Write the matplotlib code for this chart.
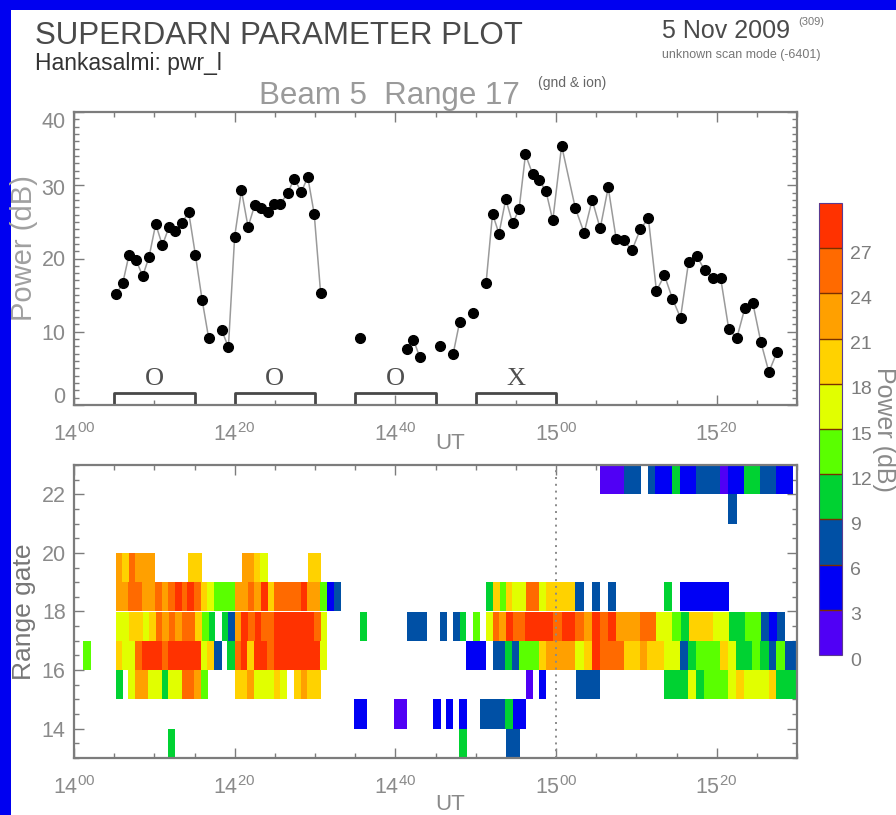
import numpy as np
import matplotlib
matplotlib.use("Agg")
import matplotlib.pyplot as plt
from matplotlib.colors import ListedColormap, BoundaryNorm
from matplotlib.cm import ScalarMappable
from matplotlib.patches import Rectangle
from matplotlib.transforms import ScaledTranslation

plt.rcParams['font.family'] = ['Liberation Sans', 'DejaVu Sans']
plt.rcParams['mathtext.fontset'] = 'custom'
plt.rcParams['mathtext.rm'] = 'Liberation Sans'
plt.rcParams['mathtext.default'] = 'regular'

W, H = 896, 815

# ---- data ----
beam_time = [5.23, 6.06, 6.85, 7.72, 8.55, 9.34, 10.17, 11.0, 11.83, 12.62, 13.45, 14.28, 15.11, 15.94, 16.77,
             18.39, 19.22, 20.0, 20.84, 21.67, 22.5, 23.29, 24.1, 24.95, 25.7, 26.6, 27.4, 28.3, 29.1, 29.9, 30.7,
             35.66, 41.4, 42.26, 43.05, 45.6, 47.2, 48.0, 49.65,
             51.3, 52.1, 52.9, 53.75, 54.6, 55.4, 56.2, 57.1, 57.9, 58.75, 59.6, 60.7, 62.4, 63.5, 64.5, 65.5, 66.5,
             67.5, 68.45, 69.45, 70.5, 71.5, 72.5, 73.5, 74.5, 75.5, 76.5, 77.5, 78.5, 79.5, 80.5, 81.5, 82.5, 83.5,
             84.5, 85.5, 86.5, 87.5]
beam_power = [15.1, 16.6, 20.5, 19.8, 17.6, 20.2, 24.7, 21.8, 24.3, 23.8, 24.9, 26.3, 20.5, 14.4, 9.1,
              10.2, 7.9, 23.0, 29.3, 24.3, 27.3, 26.9, 26.4, 27.5, 27.5, 28.9, 30.9, 29.1, 31.1, 26.1, 15.3,
              9.2, 7.7, 8.9, 6.5, 8.0, 7.0, 11.3, 12.5,
              16.7, 26.1, 23.4, 28.1, 24.8, 26.7, 34.2, 31.5, 30.7, 29.2, 25.2, 35.4, 26.9, 23.5, 28.0, 24.1, 29.7,
              22.6, 22.5, 21.1, 24.0, 25.5, 15.6, 17.7, 14.5, 11.9, 19.5, 20.4, 18.4, 17.4, 17.3, 10.4, 9.1, 13.2,
              13.9, 8.6, 4.5, 7.2]
line_break_after = [16.77, 30.7, 35.66, 43.05, 45.6, 48.0, 49.65]

mode_start = [5, 20, 35, 50]
mode_end = [15, 30, 45, 60]
mode_label = ['O', 'O', 'O', 'X']

levels = [0, 3, 6, 9, 12, 15, 18, 21, 24, 27, 30]
level_colors = ['#5000f5', '#0000f5', '#0050a5', '#00d232', '#5aff00',
                '#e1ff00', '#ffd200', '#ffa000', '#ff6a00', '#ff3200']

P, B, S, G, L, Y, A, O, D, R = 1.5, 4.5, 7.5, 10.5, 13.5, 16.5, 19.5, 22.5, 25.5, 28.5

gate_13 = [(11.75, 12.58, G), (47.95, 48.9, G), (53.76, 55.54, S)]
gate_14 = [(34.8, 36.45, B), (39.8, 41.4, P), (44.66, 45.66, B), (46.33, 47.24, B), (47.95, 48.9, B),
           (50.48, 53.67, S), (53.67, 54.63, G), (54.63, 56.29, B)]
gate_15 = [(5.19, 6.06, G), (6.76, 7.6, Y), (7.6, 9.25, O), (9.25, 10.9, Y), (10.9, 11.75, G), (11.75, 13.4, Y),
           (13.4, 14.94, D), (14.94, 15.77, O), (15.77, 16.7, L), (20.05, 21.58, A), (21.58, 22.41, O),
           (22.41, 24.9, Y), (24.9, 25.7, A), (25.7, 26.56, Y), (27.4, 28.2, A), (28.2, 29.05, O), (29.05, 30.7, A),
           (56.29, 57.12, P), (57.91, 58.78, B), (62.47, 65.5, S), (73.39, 76.42, G), (76.42, 77.42, Y),
           (77.42, 78.42, G), (78.42, 81.36, L), (81.36, 82.44, Y), (82.44, 83.44, A), (83.44, 86.47, Y),
           (86.47, 87.42, A), (87.42, 90.0, G)]
gate_16 = [(1.16, 2.07, L), (5.19, 5.93, A), (5.93, 7.6, Y), (7.6, 8.42, D), (8.42, 10.92, R), (10.92, 11.75, D),
           (11.75, 15.77, R), (15.77, 16.6, Y), (16.6, 17.43, A), (17.43, 18.39, S), (19.09, 20.05, G),
           (20.05, 20.75, D), (20.75, 21.58, R), (21.58, 22.41, A), (22.41, 24.07, R), (24.07, 24.9, D),
           (24.9, 30.63, R), (30.63, 31.46, Y), (48.82, 51.31, B), (52.14, 53.67, S), (53.67, 54.5, G),
           (54.5, 55.42, S), (55.42, 57.91, L), (57.91, 58.78, A), (58.78, 62.39, O), (62.39, 63.51, Y),
           (63.51, 64.51, A), (64.51, 65.5, R), (65.5, 68.41, D), (68.41, 70.49, A), (70.49, 71.32, O),
           (71.32, 73.39, A), (73.39, 75.39, Y), (75.39, 76.42, S), (76.42, 77.42, G), (77.42, 80.45, L),
           (80.45, 81.36, A), (81.36, 82.44, Y), (82.44, 84.39, G), (84.39, 85.43, L), (85.43, 86.47, G),
           (86.47, 87.42, S), (87.42, 88.54, L), (88.54, 90.0, S)]
gate_18 = [(5.19, 6.76, O), (6.76, 8.42, D), (8.42, 10.1, O), (10.1, 10.9, D), (10.9, 11.75, O), (11.75, 12.6, D),
           (12.6, 13.4, R), (13.4, 14.1, D), (14.1, 14.95, R), (14.95, 15.8, D), (15.8, 16.6, A), (16.6, 17.4, Y),
           (17.4, 20.05, L), (20.05, 21.6, O), (21.6, 22.4, D), (22.4, 23.25, O), (23.25, 24.1, R), (24.1, 24.9, A),
           (24.9, 28.2, D), (28.2, 29.05, R), (29.05, 30.6, O), (30.6, 31.5, L), (31.5, 32.4, B), (32.4, 33.2, S),
           (51.27, 52.14, G), (52.14, 52.97, A), (52.97, 53.8, L), (53.8, 54.5, A), (54.5, 56.29, Y),
           (56.29, 57.87, D), (57.87, 58.7, Y), (58.7, 62.39, A), (62.39, 63.51, S), (64.47, 65.5, S),
           (66.46, 67.5, S), (73.39, 74.5, G), (75.39, 81.49, B)]
gate_19 = [(5.2, 6.0, O), (6.0, 6.8, A), (6.8, 7.6, D), (7.6, 10.1, O), (14.24, 15.9, A), (20.9, 22.4, O),
           (22.4, 23.2, A), (23.2, 24.1, Y), (29.1, 30.7, A)]
gate_21 = [(81.36, 82.52, S)]
gate_22 = [(65.42, 68.41, P), (68.41, 70.57, S), (71.4, 72.36, S), (72.36, 74.43, B), (74.43, 75.39, G),
           (75.39, 77.42, B), (77.42, 80.45, S), (80.45, 81.36, P), (81.36, 83.36, B), (83.36, 85.43, G),
           (85.43, 87.42, S), (87.42, 89.5, B)]
gate_runs = {13: gate_13, 14: gate_14, 15: gate_15, 16: gate_16, 18: gate_18, 19: gate_19, 21: gate_21, 22: gate_22}

major_minutes = [0, 20, 40, 60, 80]
major_names = ['$14^{00}$', '$14^{20}$', '$14^{40}$', '$15^{00}$', '$15^{20}$']

# ---- helpers ----
AX_GREY = '#7c7c7c'
cmap = ListedColormap(level_colors)
norm = BoundaryNorm(levels, cmap.N, clip=True)

fig = plt.figure(figsize=(W / 100, H / 100), dpi=100, facecolor='white')


def axes_px(left, top, right, bottom):
    return fig.add_axes([left / W, 1 - bottom / H, (right - left) / W, (bottom - top) / H])


def text_px(x, y, s, **kw):
    kw.setdefault('ha', 'left')
    kw.setdefault('va', 'baseline')
    return fig.text(x / W, 1 - y / H, s, **kw)


def nudge(label, dy_px):
    label.set_transform(label.get_transform() + ScaledTranslation(0, -dy_px / 100, fig.dpi_scale_trans))


def style_axes(ax):
    for s in ax.spines.values():
        s.set_color(AX_GREY)
        s.set_linewidth(1.6)
    ax.set_xlim(0, 90)
    ax.set_xticks(major_minutes, major_names)
    ax.set_xticks(np.arange(0, 91, 5), minor=True)
    ax.tick_params(axis='both', which='major', direction='in', top=True, right=True, length=7, width=1,
                   color=AX_GREY, labelcolor='#8a8a8a', labelsize=15.5)
    ax.tick_params(axis='both', which='minor', direction='in', top=True, right=True, length=3.5, width=1,
                   color=AX_GREY)
    ax.tick_params(axis='x', pad=13)
    ax.tick_params(axis='y', pad=6)


# blue frame of the screenshot
fig.add_artist(Rectangle((0, 1 - 10 / H), 1, 10 / H, transform=fig.transFigure, color='#0000f0', lw=0))
fig.add_artist(Rectangle((0, 0), 11 / W, 1, transform=fig.transFigure, color='#0000f0', lw=0))

# ---- upper panel ----
ax1 = axes_px(74, 112, 797, 405)
style_axes(ax1)
ax1.set_ylim(0, 40)
ax1.set_yticks([0, 10, 20, 30, 40])
ax1.set_yticks(np.arange(0, 41, 1), minor=True)

t = np.array(beam_time)
p = np.array(beam_power)
cuts = [0] + [beam_time.index(b) + 1 for b in line_break_after] + [len(t)]
for a, b in zip(cuts[:-1], cuts[1:]):
    ax1.plot(t[a:b], p[a:b], color='#9a9a9a', lw=1.1, zorder=2)
ax1.plot(t, p, ls='none', marker='o', ms=7, color='black', zorder=3)

for s, e, name in zip(mode_start, mode_end, mode_label):
    ax1.plot([s, s, e, e], [0, 1.7, 1.7, 0], color='#484848', lw=2, zorder=2)
    ax1.text((s + e) / 2, 2.0, name, family='Liberation Serif', fontsize=19, color='#505050',
             ha='center', va='bottom')

for lab, dy in zip(ax1.get_yticklabels(), [-10, 0, 0, 2, 8]):
    nudge(lab, dy)

# ---- lower panel ----
ax2 = axes_px(74, 465, 797, 758)
style_axes(ax2)
ax2.set_ylim(13, 23)
ax2.set_yticks([14, 16, 18, 20, 22])
ax2.set_yticks(np.arange(13, 23.01, 0.5), minor=True)

# Range 17 of the lower panel is the series of the upper panel; a cell lasts until the next scan
widths = []
for i, v in enumerate(beam_time):
    base, reach = (1.0, 1.8) if v >= 59 else (0.83, 1.2)
    gap = beam_time[i + 1] - v if i + 1 < len(beam_time) else base
    widths.append(gap if gap < reach else base)
ax2.bar(t, 1, width=widths, bottom=17, align='edge', color=cmap(norm(p)), lw=0, zorder=2)
for gate, runs in gate_runs.items():
    starts = [r[0] for r in runs]
    ends = [r[1] for r in runs]
    vals = [r[2] for r in runs]
    ax2.bar(starts, 1, width=np.subtract(ends, starts), bottom=gate, align='edge',
            color=cmap(norm(vals)), lw=0, zorder=2)
ax2.axvline(60, color='#8a8a8a', lw=1.4, ls=(0, (1, 2.5)), zorder=3)

# ---- colour bar ----
cax = axes_px(819, 203, 842, 655)
cb = fig.colorbar(ScalarMappable(norm=norm, cmap=cmap), cax=cax, ticks=levels[:-1], drawedges=True,
                  spacing='proportional')
cb.dividers.set_color('#7a3000')
cb.dividers.set_linewidth(1.0)
cb.outline.set_edgecolor('#5a3a90')
cb.outline.set_linewidth(0.8)
cb.minorticks_off()
cax.tick_params(which='both', length=0, pad=6, labelsize=14, labelcolor='#7c7c7c')
for lab in cax.get_yticklabels():
    nudge(lab, 4)

# ---- texts ----
text_px(35, 44, 'SUPERDARN PARAMETER PLOT', fontsize=22.5, color='#4a4a4a')
text_px(35, 70, 'Hankasalmi: pwr_l', fontsize=16.5, color='#333333')
text_px(259, 104, 'Beam 5  Range 17', fontsize=22.5, color='#9a9a9a')
text_px(538, 87, '(gnd & ion)', fontsize=10, color='#666666')
text_px(662, 38, '5 Nov 2009', fontsize=18, color='#4a4a4a')
text_px(798, 25, '(309)', fontsize=8, color='#777777')
text_px(662, 58, 'unknown scan mode (-6401)', fontsize=9, color='#777777')
text_px(450, 444, 'UT', fontsize=16, color='#8a8a8a', ha='center', va='center')
text_px(450, 804, 'UT', fontsize=16, color='#8a8a8a', ha='center', va='center')
text_px(24, 248, 'Power (dB)', fontsize=21, color='#a0a0a0', rotation=90, ha='center', va='center')
text_px(24, 612, 'Range gate', fontsize=19, color='#777777', rotation=90, ha='center', va='center')
text_px(884, 429, 'Power (dB)', fontsize=18, color='#8a8a8a', rotation=270, ha='center', va='center')

fig.savefig('out.png', dpi=100, facecolor='white')
